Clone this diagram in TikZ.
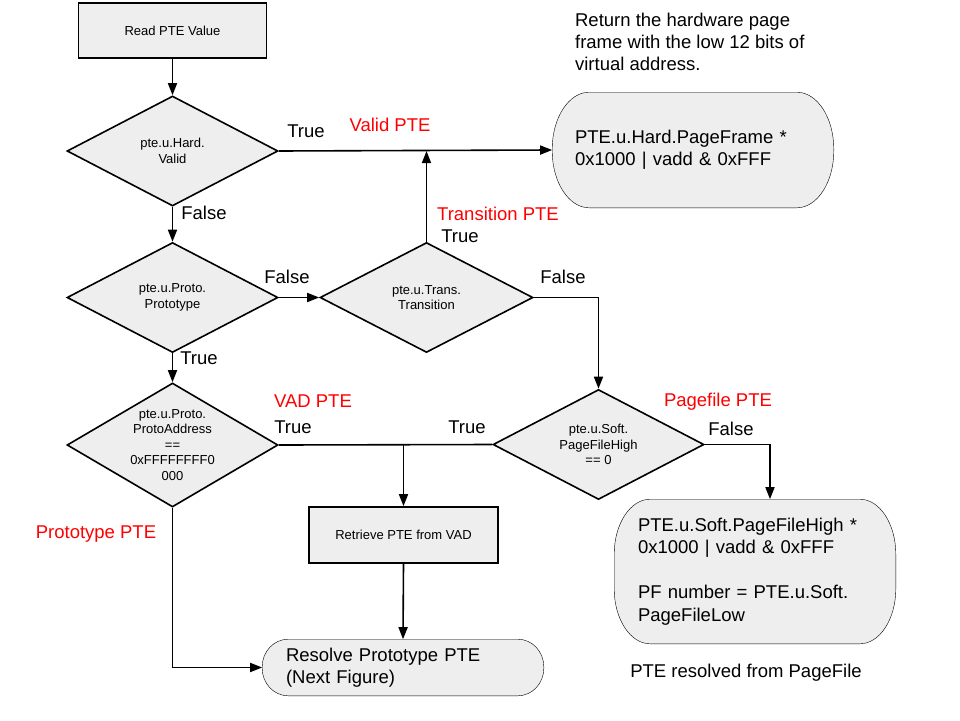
\documentclass[tikz,border=0pt]{standalone}
\usepackage{fontspec}
\setmainfont{Liberation Sans}
\usetikzlibrary{shapes.geometric,arrows.meta,backgrounds}
\definecolor{boxgray}{RGB}{238,238,238}
% terminal outline: rectangle with elliptical corners (node, x radius, y radius)
\newcommand\termshape[3]{%
  \draw[fill=boxgray] ([xshift=#2]#1.north west) -- ([xshift=-#2]#1.north east)
    arc[start angle=90,end angle=0,x radius=#2,y radius=#3]
    -- ([yshift=#3]#1.south east)
    arc[start angle=0,end angle=-90,x radius=#2,y radius=#3]
    -- ([xshift=#2]#1.south west)
    arc[start angle=270,end angle=180,x radius=#2,y radius=#3]
    -- ([yshift=-#3]#1.north west)
    arc[start angle=180,end angle=90,x radius=#2,y radius=#3] -- cycle;}
\begin{document}
\begin{tikzpicture}[x=1pt,y=-1pt,
  line width=1.6pt,
  arr/.style={-{Triangle[length=12pt,width=9pt]}},
  smallt/.style={font=\fontsize{13}{15.5}\selectfont},
  bigt/.style={font=\fontsize{18.5}{22.5}\selectfont},
  redt/.style={bigt,text=red},
  procbox/.style={draw,fill=boxgray,minimum width=188pt,minimum height=55pt,inner sep=0pt,smallt},
  dia/.style={draw,fill=boxgray,diamond,minimum width=211pt,minimum height=110pt,inner sep=0pt},
  diatext/.style={smallt,align=center},
  term/.style={bigt,align=left,inner ysep=0pt}
]
\useasboundingbox (0,0) rectangle (960,720);

% process boxes
\node[procbox] (read) at (172.5,30.5) {Read PTE Value};
\node[procbox,minimum width=189pt,minimum height=56pt] (ret) at (403.5,535) {Retrieve PTE from VAD};

% decisions
\node[dia,label={[diatext]center:pte.u.Hard.\\Valid}] (d1) at (172.5,151) {};
\node[dia,label={[diatext]center:pte.u.Proto.\\Prototype}] (d2) at (172.5,297.5) {};
\node[dia,minimum width=213pt,label={[diatext]center:pte.u.Trans.\\Transition}] (d3) at (426.5,297.5) {};
\node[dia,label={[diatext]center:pte.u.Soft.\\PageFileHigh\\== 0}] (d4) at (598.5,444.5) {};
\node[dia,minimum height=124pt,label={[diatext]center:pte.u.Proto.\\ProtoAddress\\==\\0xFFFFFFFF0\\000}] (d5) at (172.5,445) {};

% terminals
\node[term,minimum width=280pt,minimum height=114pt,text width=236pt,inner xsep=22pt] (hw) at (693,150)
  {PTE.u.Hard.PageFrame *\\0x1000 | vadd \& 0xFFF};
\node[term,minimum width=280pt,minimum height=143pt,text width=234pt,inner xsep=23pt] (pf) at (755,571.5)
  {PTE.u.Soft.PageFileHigh *\\0x1000 | vadd \& 0xFFF\\[22.5pt]PF number = PTE.u.Soft.\\PageFileLow};
\node[term,minimum width=280pt,minimum height=55pt,text width=234pt,inner xsep=23pt] (res) at (403,667.5)
  {Resolve Prototype PTE\\(Next Figure)};
\begin{scope}[on background layer]
  \termshape{hw}{37pt}{57pt}
  \termshape{pf}{36pt}{55pt}
  \termshape{res}{26pt}{27.5pt}
\end{scope}

% free texts
\node[bigt,align=left,anchor=west,font=\fontsize{18.5}{22}\selectfont] (note1) at (571,42)
  {Return the hardware page\\frame with the low 12 bits of\\virtual address.};
\node[bigt] (note2) at (746,673) {PTE resolved from PageFile};

% branch labels
\node[bigt] (l1) at (306,131) {True};
\node[redt] (r1) at (390,125) {Valid PTE};
\node[bigt] (l2) at (204,213) {False};
\node[bigt] (l3) at (287,277) {False};
\node[bigt] (l4) at (460,236) {True};
\node[redt] (r2) at (498,214) {Transition PTE};
\node[bigt] (l5) at (563,277) {False};
\node[bigt] (l6) at (199,358) {True};
\node[redt] (r3) at (313,401) {VAD PTE};
\node[bigt] (l7) at (293,427) {True};
\node[bigt] (l8) at (467,427) {True};
\node[redt] (r4) at (718,402) {Pagefile PTE};
\node[bigt] (l9) at (731,429) {False};
\node[redt] (r5) at (96,534) {Prototype PTE};

% connectors
\draw[arr] (read) -- (d1);
\draw[arr] (d1.east) -- (hw.west);
\draw[arr] (d1.south) -- (d2.north);
\draw[arr] (d2.east) -- (d3.west);
\draw[arr] (d3.north) -- (d3.north |- d1.east);
\draw[arr] (d3.east) -| (d4.north);
\draw[arr] (d2.south) -- (d5.north);
\draw (d5.east) -- (d4.west);
\coordinate (vj) at (ret.north |- d5.east);
\draw[arr] (vj) -- (ret.north);
\draw[arr] (ret.south) -- (res.north);
\draw[arr] (d5.south) |- (res.west);
\draw[arr] (d4.east) -| ([xshift=15pt]pf.north);
\end{tikzpicture}
\end{document}
